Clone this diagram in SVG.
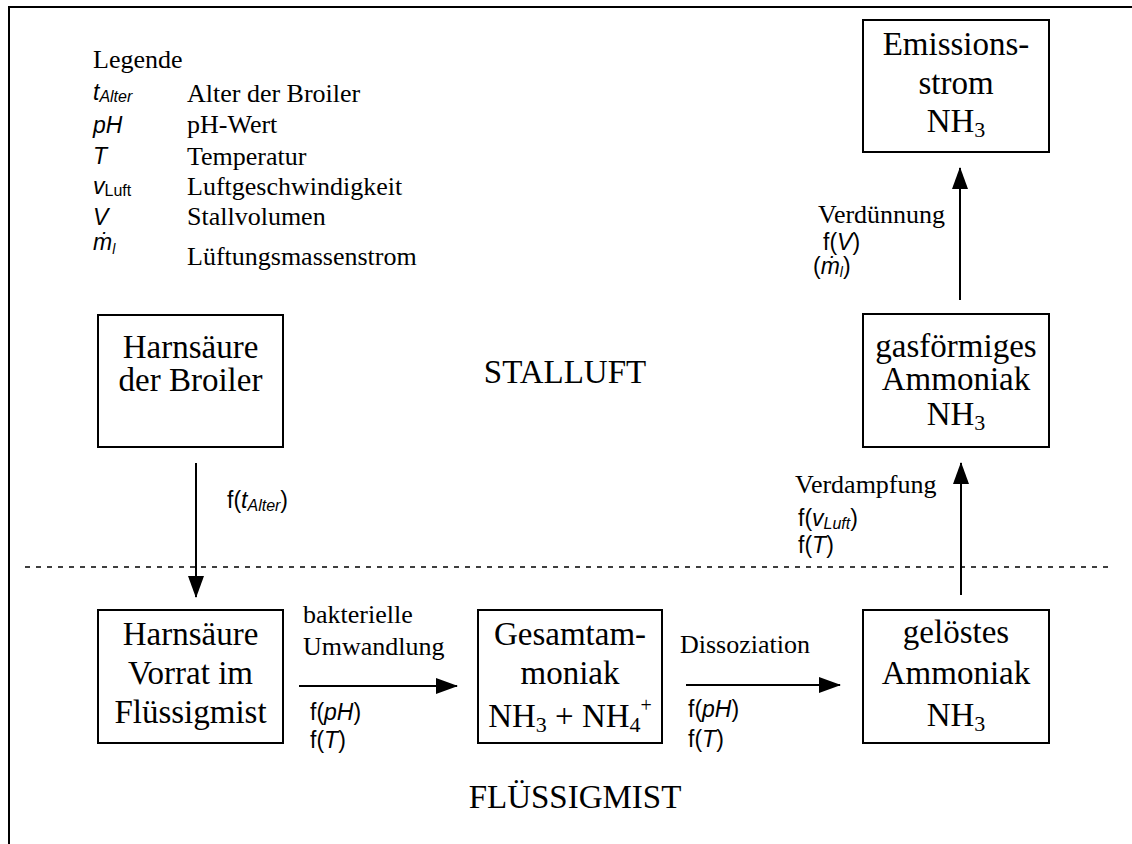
<svg xmlns="http://www.w3.org/2000/svg" width="1132" height="844" viewBox="0 0 1132 844">
<style>
.box{fill:#fff;stroke:#000;stroke-width:2}
.bt{font-family:"Liberation Serif","Times New Roman",serif;font-size:33px;text-anchor:middle;fill:#000}
.lt{font-family:"Liberation Serif","Times New Roman",serif;font-size:26px;fill:#000}
.st{font-family:"Liberation Sans",Arial,"DejaVu Sans",sans-serif;font-size:23px;fill:#000}
.zt{font-family:"Liberation Serif","Times New Roman",serif;font-size:33px;text-anchor:middle;fill:#000}
.conn{stroke:#000;stroke-width:2;fill:none;marker-end:url(#ah)}
</style>
<defs>
<marker id="ah" markerUnits="userSpaceOnUse" markerWidth="22" markerHeight="16" refX="21" refY="8" orient="auto">
<path d="M0,0 L22,8 L0,16 z" fill="#000"/>
</marker>
</defs>
<rect width="1132" height="844" fill="#fff"/>
<path d="M9,844 V7 H1132" fill="none" stroke="#000" stroke-width="2"/>
<line x1="25" y1="567" x2="1112" y2="567" stroke="#000" stroke-width="1.5" stroke-dasharray="5 6"/>

<g id="legend">
<text class="lt" x="93" y="68" font-size="33">Legende</text>
<text class="st" x="93" y="100" font-size="24"><tspan font-style="italic">t</tspan><tspan font-style="italic" font-size="16" dy="2">Alter</tspan></text>
<text class="lt" x="187" y="102">Alter der Broiler</text>
<text class="st" x="93" y="133" font-size="24" font-style="italic">pH</text>
<text class="lt" x="187" y="133">pH-Wert</text>
<text class="st" x="93" y="164" font-size="24" font-style="italic">T</text>
<text class="lt" x="187" y="165">Temperatur</text>
<text class="st" x="93" y="194" font-size="24"><tspan font-style="italic">v</tspan><tspan font-size="16" dy="2">Luft</tspan></text>
<text class="lt" x="187" y="195">Luftgeschwindigkeit</text>
<text class="st" x="93" y="225" font-size="24" font-style="italic">V</text>
<text class="lt" x="187" y="225">Stallvolumen</text>
<text class="st" x="93" y="250" font-size="24" font-style="italic">ṁ<tspan font-size="14" dy="4">l</tspan></text>
<text class="lt" x="187" y="265">Lüftungsmassenstrom</text>
</g>

<g id="zone-stalluft"><text class="zt" x="565" y="383">STALLUFT</text></g>
<g id="zone-fluessigmist"><text class="zt" x="575" y="808">FLÜSSIGMIST</text></g>

<g id="node-harnsaeure-broiler">
<rect class="box" x="98" y="315" width="185" height="132"/>
<text class="bt" x="190.5" y="358">Harnsäure</text>
<text class="bt" x="190.5" y="391">der Broiler</text>
</g>

<g id="node-emissionsstrom">
<rect class="box" x="863" y="20" width="186" height="132"/>
<text class="bt" x="956" y="55">Emissions-</text>
<text class="bt" x="956" y="94">strom</text>
<text class="bt" x="956" y="132">NH<tspan font-size="22" dy="5">3</tspan></text>
</g>

<g id="node-gasfoermig">
<rect class="box" x="863" y="314" width="186" height="133"/>
<text class="bt" x="956" y="357">gasförmiges</text>
<text class="bt" x="956" y="390">Ammoniak</text>
<text class="bt" x="956" y="425">NH<tspan font-size="22" dy="5">3</tspan></text>
</g>

<g id="node-harnsaeure-vorrat">
<rect class="box" x="98" y="610" width="185" height="133"/>
<text class="bt" x="190.5" y="645">Harnsäure</text>
<text class="bt" x="190.5" y="684">Vorrat im</text>
<text class="bt" x="190.5" y="723">Flüssigmist</text>
</g>

<g id="node-gesamtammoniak">
<rect class="box" x="478" y="610" width="184" height="133"/>
<text class="bt" x="570" y="645">Gesamtam-</text>
<text class="bt" x="570" y="684">moniak</text>
<text class="bt" x="570" y="727">NH<tspan font-size="22" dy="5">3</tspan><tspan dy="-5"> + NH</tspan><tspan font-size="22" dy="5">4</tspan><tspan font-size="20" dy="-20">+</tspan></text>
</g>

<g id="node-geloest">
<rect class="box" x="863" y="610" width="186" height="133"/>
<text class="bt" x="956" y="643">gelöstes</text>
<text class="bt" x="956" y="684">Ammoniak</text>
<text class="bt" x="956" y="726">NH<tspan font-size="22" dy="5">3</tspan></text>
</g>

<g id="connectors">
<line class="conn" x1="196" y1="463" x2="196" y2="597"/>
<line class="conn" x1="299" y1="686" x2="457" y2="686"/>
<line class="conn" x1="686" y1="685" x2="840" y2="685"/>
<line class="conn" x1="961" y1="595" x2="961" y2="463"/>
<line class="conn" x1="960" y1="300" x2="960" y2="168"/>

<text class="st" x="227" y="508">f(<tspan font-style="italic">t</tspan><tspan font-style="italic" font-size="16" dy="3">Alter</tspan><tspan dy="-3">)</tspan></text>

<text class="lt" x="303" y="623">bakterielle</text>
<text class="lt" x="303" y="655">Umwandlung</text>
<text class="st" x="310" y="720">f(<tspan font-style="italic">pH</tspan>)</text>
<text class="st" x="310" y="748">f(<tspan font-style="italic">T</tspan>)</text>

<text class="lt" x="680" y="653">Dissoziation</text>
<text class="st" x="688" y="717">f(<tspan font-style="italic">pH</tspan>)</text>
<text class="st" x="688" y="747">f(<tspan font-style="italic">T</tspan>)</text>

<text class="lt" x="795" y="493">Verdampfung</text>
<text class="st" x="798" y="526">f(<tspan font-style="italic">v</tspan><tspan font-style="italic" font-size="16" dy="3">Luft</tspan><tspan dy="-3">)</tspan></text>
<text class="st" x="798" y="553">f(<tspan font-style="italic">T</tspan>)</text>

<text class="lt" x="818" y="223">Verdünnung</text>
<text class="st" x="823" y="250">f(<tspan font-style="italic">V</tspan>)</text>
<text class="st" x="813" y="274">(<tspan font-style="italic">ṁ</tspan><tspan font-style="italic" font-size="14" dy="3">l</tspan><tspan dy="-3">)</tspan></text>
</g>
</svg>
